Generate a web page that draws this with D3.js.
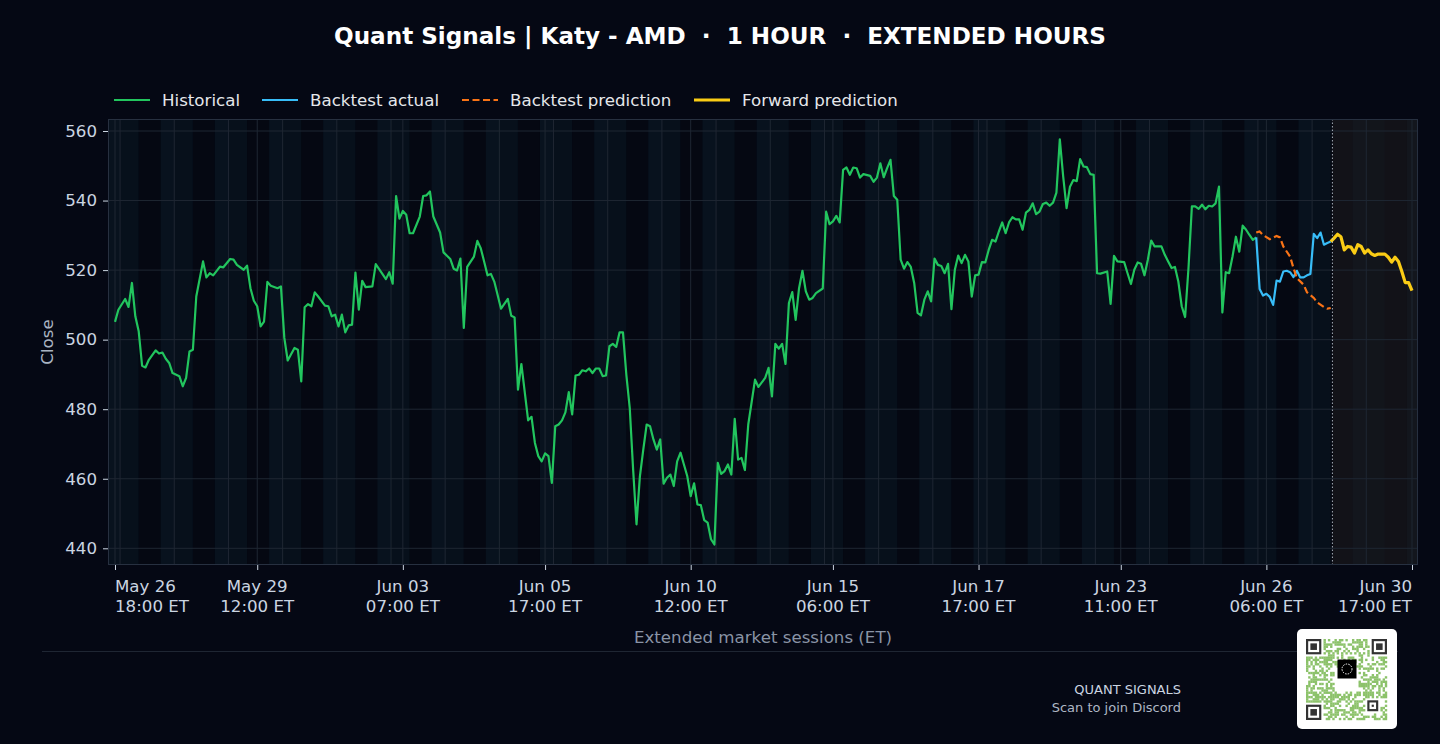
<!DOCTYPE html>
<html>
<head>
<meta charset="utf-8">
<script src="https://cdn.jsdelivr.net/npm/d3@7"></script>
<style>
  html, body { margin: 0; padding: 0; background: #050814; }
  svg { display: block; }
</style>
</head>
<body>
<div id="chart"></div>
<script>
// hourly bars, extended session (04:00-20:00 ET), index 0 = May 26 18:00
const historical = [
  [0,505.1],[1,508.6],[3,511.7],[4,509.4],[5,516.3],[6,506.7],[7,502.4],[8,492.5],[9,492.0],[10,494.2],
  [12,496.9],[13,496.0],[14,496.3],[15,494.5],[16,493.3],[17,490.4],[19,489.5],[20,486.6],[21,489.0],[22,496.6],
  [23,497.1],[24,512.4],[26,522.5],[27,517.9],[28,519.1],[29,518.5],[31,521.0],[32,520.8],[34,523.2],[35,523.0],
  [36,521.5],[38,520.1],[39,521.3],[40,514.8],[41,511.2],[42,509.6],[43,503.8],[44,505.2],[45,516.6],[46,515.5],
  [48,514.8],[49,515.3],[50,500.5],[51,494.0],[53,497.6],[54,497.1],[55,488.0],[56,509.3],[57,510.2],[58,509.6],
  [59,513.6],[60,512.4],[62,509.8],[63,509.6],[64,506.7],[65,507.2],[66,503.8],[67,507.2],[68,502.1],[69,504.1],
  [70,504.3],[71,519.3],[72,508.6],[73,516.9],[74,515.1],[76,515.3],[77,521.7],[78,520.3],[80,517.4],[81,519.4],
  [82,516.1],[83,541.3],[84,534.8],[85,537.0],[86,535.9],[87,530.6],[88,530.6],[90,535.4],[91,541.3],[92,541.5],
  [93,542.6],[94,535.4],[96,530.8],[97,525.1],[99,523.2],[100,520.4],[101,519.9],[102,523.3],[103,503.4],[104,520.9],
  [106,523.9],[107,528.4],[108,526.3],[109,522.5],[110,518.5],[111,518.9],[112,516.7],[114,508.9],[116,511.7],[117,506.9],
  [118,506.4],[119,485.6],[120,493.0],[122,476.8],[123,477.8],[124,470.3],[125,466.5],[126,465.0],[127,467.3],[128,466.5],
  [129,458.8],[130,475.1],[131,475.6],[132,476.8],[133,479.1],[134,484.9],[135,478.5],[136,489.7],[137,489.9],[138,491.2],
  [139,490.9],[140,491.7],[141,490.4],[142,491.7],[143,491.7],[144,489.5],[145,489.7],[146,498.1],[147,498.8],[148,497.9],
  [149,502.1],[150,502.1],[151,489.9],[152,480.4],[153,462.7],[154,446.9],[155,460.7],[156,468.4],[157,475.6],[158,475.1],
  [159,471.3],[160,468.4],[161,471.3],[162,458.6],[163,460.3],[164,461.2],[165,457.9],[166,465.0],[167,467.5],[168,464.1],
  [169,460.7],[170,455.0],[171,458.7],[172,452.6],[173,452.4],[174,448.1],[175,447.4],[176,442.6],[177,441.1],[178,464.6],
  [179,461.4],[180,462.2],[181,464.1],[182,461.2],[183,477.2],[184,465.5],[185,466.0],[186,462.5],[187,475.6],[189,488.5],
  [190,486.4],[192,489.0],[193,491.9],[194,483.7],[195,498.8],[196,497.4],[197,498.8],[198,493.0],[199,510.5],[200,513.7],
  [201,505.7],[202,514.8],[203,519.8],[204,513.9],[205,511.5],[206,512.0],[207,513.4],[209,514.7],[210,536.8],[211,533.2],
  [212,534.0],[213,535.6],[214,533.7],[215,548.8],[216,549.5],[217,547.4],[218,549.5],[219,549.3],[220,546.6],[221,547.6],
  [223,547.1],[224,545.4],[225,546.6],[226,550.7],[227,546.7],[228,549.3],[229,551.7],[230,541.3],[231,540.2],[232,523.0],
  [233,520.4],[234,522.3],[235,520.9],[236,516.3],[237,507.7],[238,507.0],[239,511.5],[240,513.9],[241,511.0],[242,523.3],
  [243,521.5],[244,521.2],[245,519.1],[246,521.8],[247,508.8],[248,520.1],[249,524.2],[250,522.0],[251,524.4],[252,522.5],
  [253,512.4],[254,518.5],[255,518.7],[256,522.3],[257,522.2],[258,525.8],[259,528.7],[260,528.2],[261,531.1],[262,533.7],
  [263,530.6],[264,533.7],[265,535.2],[266,534.6],[267,534.6],[268,531.6],[269,536.5],[270,537.3],[271,539.2],[272,536.1],
  [273,536.8],[274,539.0],[275,539.4],[276,538.5],[277,539.4],[278,542.3],[279,557.6],[280,546.9],[281,537.8],[282,544.0],
  [283,545.9],[284,545.6],[285,551.9],[286,549.8],[287,549.6],[288,547.6],[289,547.4],[290,519.1],[291,519.0],[293,519.6],
  [294,510.3],[295,524.1],[296,522.5],[298,522.3],[299,519.1],[300,516.0],[301,520.1],[302,522.2],[303,521.8],[304,518.5],
  [305,523.0],[306,528.5],[307,526.8],[309,526.8],[310,524.4],[311,522.5],[312,520.6],[313,520.9],[314,516.7],[315,509.6],
  [316,506.5],[317,520.6],[318,538.3],[319,538.3],[320,537.6],[321,538.8],[322,537.5],[323,538.5],[324,538.3],[325,539.2],
  [326,544.0],[327,507.8],[328,519.4],[329,519.1],[330,523.9],[331,529.6],[332,525.3],[333,532.8],[334,531.6],[335,530.1],
  [336,528.7],[337,529.4]
];

const backtestActual = [
  [337,529.4],[338,514.6],[339,512.7],[340,513.2],[341,512.3],[342,510.0],[343,517.0],[344,516.7],[345,519.6],[346,519.8],
  [347,519.4],[348,518.0],[349,519.8],[350,517.9],[351,517.9],[352,518.5],[353,518.9],[354,530.4],[355,529.2],[356,530.8],
  [357,527.3],[358,527.8],[359,528.2]
];

const backtestPred = [
  [337,530.8],[338,531.1],[339,530.1],[341,528.9],[343,529.8],[344,529.4],[345,526.8],[347,523.9],[348,520.6],[349,517.7],
  [351,515.8],[352,513.6],[354,512.0],[355,510.7],[357,509.4],[358,508.9],[359,509.1]
];

const forward = [
  [359,528.2],[360,529.2],[361,530.3],[362,529.6],[363,525.8],[364,526.8],[365,526.6],[366,524.9],[367,527.3],[368,526.8],
  [369,524.9],[370,525.8],[371,524.7],[372,524.2],[373,524.6],[374,524.6],[375,524.6],[376,523.7],[377,522.3],[378,523.7],
  [379,522.5],[380,519.6],[381,516.4],[382,516.4],[383,514.1]
];

const lastBar = 383;
const forecastStart = 359.5;   // boundary between last actual and first forecast bar
const firstDayBar = 2;          // bar index of the first 04:00 bar
const barsPerDay = 16;

const tickBars = [0, 42, 85, 127, 170, 212, 255, 297, 340, 383];
const tickDates = ['May 26', 'May 29', 'Jun 03', 'Jun 05', 'Jun 10', 'Jun 15', 'Jun 17', 'Jun 23', 'Jun 26', 'Jun 30'];
const tickTimes = ['18:00 ET', '12:00 ET', '07:00 ET', '17:00 ET', '12:00 ET', '06:00 ET', '17:00 ET', '11:00 ET', '06:00 ET', '17:00 ET'];
const yTicks = [440, 460, 480, 500, 520, 540, 560];

// session windows in hours ET
const sessions = [
  {name: 'pre', start: 4, end: 9.5, fill: '#07101b'},
  {name: 'regular', start: 9.5, end: 16, fill: '#050812'},
  {name: 'after', start: 16, end: 20, fill: '#08121e'},
];

const legendItems = [
  {label: 'Historical', color: '#22c55e', width: 2.2, dash: null, x: 114},
  {label: 'Backtest actual', color: '#38bdf8', width: 2.2, dash: null, x: 262},
  {label: 'Backtest prediction', color: '#f97316', width: 2.2, dash: '7,3.5', x: 462},
  {label: 'Forward prediction', color: '#facc15', width: 3.2, dash: null, x: 694},
];

const W = 1440, H = 744;
const font = 'DejaVu Sans, sans-serif';
const fs = 16.67;
const plot = {left: 108, right: 1418, top: 119, bottom: 565};

const svg = d3.select('#chart')
  .append('svg')
  .attr('width', W)
  .attr('height', H)
  .style('font-family', font);

svg.append('rect').attr('width', W).attr('height', H).attr('fill', '#050814');

const x = d3.scaleLinear().domain([0, lastBar]).range([115, 1412]);
const y = d3.scaleLinear().domain([440, 560]).range([548.3, 131]);

svg.append('defs').append('clipPath').attr('id', 'plotclip')
  .append('rect')
  .attr('x', plot.left).attr('y', plot.top)
  .attr('width', plot.right - plot.left).attr('height', plot.bottom - plot.top);

const g = svg.append('g').attr('clip-path', 'url(#plotclip)');

g.append('rect')
  .attr('x', plot.left).attr('y', plot.top)
  .attr('width', plot.right - plot.left).attr('height', plot.bottom - plot.top)
  .attr('fill', '#060b16');

// session bands, one set per trading day
const bands = [];
for (let d = -1; d * barsPerDay + firstDayBar <= lastBar + 1; d++) {
  const dayStart = firstDayBar + d * barsPerDay - 0.5; // 04:00
  sessions.forEach((s) => {
    bands.push({x0: dayStart + (s.start - 4), x1: dayStart + (s.end - 4), fill: s.fill});
  });
}
g.selectAll('.band')
  .data(bands)
  .join('rect')
  .attr('class', 'band')
  .attr('x', (d) => x(d.x0))
  .attr('y', plot.top)
  .attr('width', (d) => x(d.x1) - x(d.x0))
  .attr('height', plot.bottom - plot.top)
  .attr('fill', (d) => d.fill);

// forecast region tint
g.append('rect')
  .attr('x', x(forecastStart))
  .attr('y', plot.top)
  .attr('width', plot.right - x(forecastStart))
  .attr('height', plot.bottom - plot.top)
  .attr('fill', '#1b191c')
  .attr('opacity', 0.6);

// grid
const gridColor = '#1f2733';
g.selectAll('.hgrid')
  .data(yTicks)
  .join('line')
  .attr('x1', plot.left).attr('x2', plot.right)
  .attr('y1', (d) => y(d)).attr('y2', (d) => y(d))
  .attr('stroke', gridColor).attr('stroke-width', 1);

const dayLines = bands.filter((b, i) => i % sessions.length === 0).map((b) => b.x0);
g.selectAll('.vgrid')
  .data(dayLines.concat(tickBars))
  .join('line')
  .attr('x1', (d) => x(d)).attr('x2', (d) => x(d))
  .attr('y1', plot.top).attr('y2', plot.bottom)
  .attr('stroke', gridColor).attr('stroke-width', 1);

// lines
const line = d3.line().x((d) => x(d[0])).y((d) => y(d[1]));

g.append('path').datum(historical)
  .attr('d', line).attr('fill', 'none')
  .attr('stroke', '#22c55e').attr('stroke-width', 2.2).attr('stroke-linejoin', 'round');

g.append('path').datum(backtestActual)
  .attr('d', line).attr('fill', 'none')
  .attr('stroke', '#38bdf8').attr('stroke-width', 2.2).attr('stroke-linejoin', 'round');

g.append('path').datum(backtestPred)
  .attr('d', line).attr('fill', 'none')
  .attr('stroke', '#f97316').attr('stroke-width', 2.2).attr('stroke-dasharray', '7,3.5');

g.append('path').datum(forward)
  .attr('d', line).attr('fill', 'none')
  .attr('stroke', '#facc15').attr('stroke-width', 3.2).attr('stroke-linejoin', 'round');

// now divider
g.append('line')
  .attr('x1', x(forecastStart)).attr('x2', x(forecastStart))
  .attr('y1', plot.top).attr('y2', plot.bottom)
  .attr('stroke', '#cbd5e1').attr('stroke-width', 1)
  .attr('stroke-dasharray', '1.5,2').attr('opacity', 0.8);

// frame
svg.append('rect')
  .attr('x', plot.left + 0.5).attr('y', plot.top + 0.5)
  .attr('width', plot.right - plot.left - 1).attr('height', plot.bottom - plot.top - 1)
  .attr('fill', 'none').attr('stroke', '#273040').attr('stroke-width', 1);

// y axis
const yAxis = svg.append('g')
  .attr('transform', `translate(${plot.left},0)`)
  .call(d3.axisLeft(y).tickValues(yTicks).tickSize(5).tickPadding(6));
yAxis.select('.domain').remove();
yAxis.selectAll('.tick line').attr('stroke', '#cbd5e1');
yAxis.selectAll('.tick text')
  .attr('fill', '#cbd5e1').attr('font-size', fs).attr('font-family', font);

svg.append('text')
  .attr('transform', `translate(53, ${(plot.top + plot.bottom) / 2}) rotate(-90)`)
  .attr('text-anchor', 'middle')
  .attr('fill', '#aab4c3')
  .attr('font-size', fs)
  .text('Close');

// x axis
const xAxis = svg.append('g')
  .attr('transform', `translate(0,${plot.bottom})`)
  .call(d3.axisBottom(x).tickValues(tickBars).tickSize(5).tickFormat(''));
xAxis.select('.domain').remove();
xAxis.selectAll('.tick line').attr('stroke', '#cbd5e1');

const xLabels = svg.selectAll('.xlab')
  .data(tickBars)
  .join('text')
  .attr('class', 'xlab')
  .attr('fill', '#cbd5e1')
  .attr('font-size', fs)
  .attr('text-anchor', (d, i) => (i === 0 ? 'start' : i === tickBars.length - 1 ? 'end' : 'middle'));
xLabels.append('tspan')
  .attr('x', (d) => x(d)).attr('y', 592)
  .text((d, i) => tickDates[i]);
xLabels.append('tspan')
  .attr('x', (d) => x(d)).attr('y', 612)
  .text((d, i) => tickTimes[i]);

svg.append('text')
  .attr('x', (plot.left + plot.right) / 2).attr('y', 643)
  .attr('text-anchor', 'middle')
  .attr('fill', '#8a94a6')
  .attr('font-size', fs)
  .text('Extended market sessions (ET)');

// title
svg.append('text')
  .attr('x', W / 2).attr('y', 44)
  .attr('text-anchor', 'middle')
  .attr('fill', '#ffffff')
  .attr('font-size', 23.1)
  .attr('font-weight', 'bold')
  .style('white-space', 'pre')
  .text('Quant Signals | Katy - AMD  \u00b7  1 HOUR  \u00b7  EXTENDED HOURS');

// legend
const legend = svg.append('g').attr('class', 'legend');
legendItems.forEach((it) => {
  legend.append('line')
    .attr('x1', it.x).attr('x2', it.x + 36)
    .attr('y1', 100).attr('y2', 100)
    .attr('stroke', it.color).attr('stroke-width', it.width)
    .attr('stroke-dasharray', it.dash);
  legend.append('text')
    .attr('x', it.x + 48).attr('y', 106)
    .attr('fill', '#e5e7eb')
    .attr('font-size', fs)
    .text(it.label);
});

// footer
svg.append('line')
  .attr('x1', 42).attr('x2', 1398)
  .attr('y1', 651.5).attr('y2', 651.5)
  .attr('stroke', '#1f2633').attr('stroke-width', 1);

svg.append('text')
  .attr('x', 1181).attr('y', 694)
  .attr('text-anchor', 'end')
  .attr('fill', '#cbd5e1').attr('font-size', 13)
  .text('QUANT SIGNALS');
svg.append('text')
  .attr('x', 1181).attr('y', 712)
  .attr('text-anchor', 'end')
  .attr('fill', '#aeb7c4').attr('font-size', 13)
  .text('Scan to join Discord');

// QR badge (decorative)
const qr = svg.append('g').attr('transform', 'translate(1297,629)');
qr.append('rect').attr('width', 100).attr('height', 100).attr('rx', 5).attr('fill', '#ffffff');
const n = 37, ms = 81 / 37, ox = 9, oy = 10;
const inFinder = (r, c) =>
  (r < 8 && c < 8) || (r < 8 && c > n - 9) || (r > n - 9 && c < 8);
const inAlign = (r, c) => r >= 27 && r <= 33 && c >= 27 && c <= 33;
const inLogo = (r, c) => r >= 13 && r <= 23 && c >= 13 && c <= 23;
const cells = [];
for (let r = 0; r < n; r++) {
  for (let c = 0; c < n; c++) {
    if (inFinder(r, c) || inAlign(r, c) || inLogo(r, c)) continue;
    const h = ((r * 73856093) ^ (c * 19349663) ^ (r * c * 83492791)) >>> 0;
    if (r === 6 || c === 6 ? (r + c) % 2 === 0 : h % 100 < 55) cells.push([r, c]);
  }
}
qr.selectAll('.m')
  .data(cells)
  .join('rect')
  .attr('x', (d) => ox + d[1] * ms).attr('y', (d) => oy + d[0] * ms)
  .attr('width', ms + 0.2).attr('height', ms + 0.2)
  .attr('fill', '#8cc26a');
[[0, 0], [0, n - 7], [n - 7, 0]].forEach(([r, c]) => {
  qr.append('rect').attr('x', ox + c * ms).attr('y', oy + r * ms)
    .attr('width', 7 * ms).attr('height', 7 * ms).attr('fill', '#333333');
  qr.append('rect').attr('x', ox + (c + 1) * ms).attr('y', oy + (r + 1) * ms)
    .attr('width', 5 * ms).attr('height', 5 * ms).attr('fill', '#ffffff');
  qr.append('rect').attr('x', ox + (c + 2) * ms).attr('y', oy + (r + 2) * ms)
    .attr('width', 3 * ms).attr('height', 3 * ms).attr('fill', '#333333');
});
qr.append('rect').attr('x', ox + 28 * ms).attr('y', oy + 28 * ms)
  .attr('width', 5 * ms).attr('height', 5 * ms).attr('fill', '#333333');
qr.append('rect').attr('x', ox + 29 * ms).attr('y', oy + 29 * ms)
  .attr('width', 3 * ms).attr('height', 3 * ms).attr('fill', '#ffffff');
qr.append('rect').attr('x', ox + 30 * ms).attr('y', oy + 30 * ms)
  .attr('width', ms).attr('height', ms).attr('fill', '#333333');
qr.append('rect').attr('x', 40.5).attr('y', 30.5).attr('width', 19).attr('height', 19).attr('fill', '#000000');
qr.append('circle').attr('cx', 50).attr('cy', 40).attr('r', 5)
  .attr('fill', 'none').attr('stroke', '#ffffff').attr('stroke-width', 1).attr('stroke-dasharray', '1.5,1.2');
</script>
</body>
</html>
